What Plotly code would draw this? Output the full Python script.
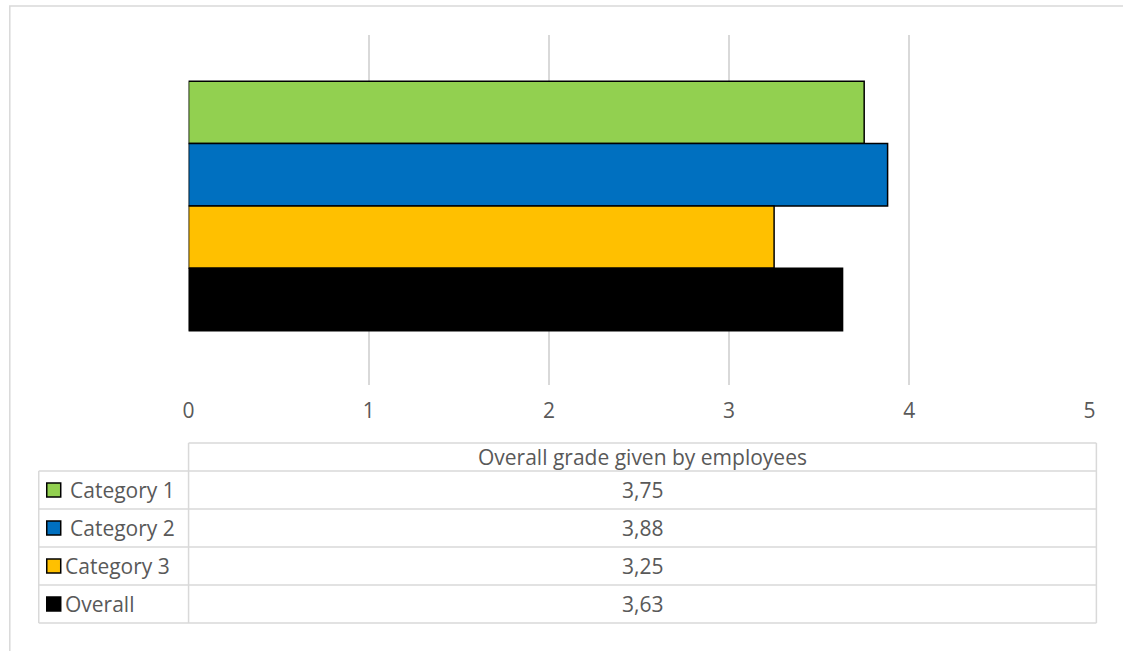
import plotly.graph_objects as go

# Survey results: overall grade given by employees, per group
categories = ["Category 1", "Category 2", "Category 3", "Overall"]
grades = [3.75, 3.88, 3.25, 3.63]
grade_labels = ["3,75", "3,88", "3,25", "3,63"]
colors = ["#92D050", "#0070C0", "#FFC000", "#000000"]
metric = "Overall grade given by employees"
x_ticks = [0, 1, 2, 3, 4, 5]

W, H = 1123, 651
FONT = "Open Sans"
FS = 21
TXT = "#595959"
GRID = "#D9D9D9"

# horizontal placement helpers (page pixels -> paper fraction)
X_OFF, X_SCALE = 5.2, 0.9906


def px(x):
    return (x - X_OFF) / X_SCALE / W


def py(y):
    return 1 - y / H


fig = go.Figure()

# one bar per category, bottom-up order on the category axis
bottom_up = list(reversed(categories))
for name, val, col in zip(categories, grades, colors):
    fig.add_trace(go.Bar(
        y=[name], x=[val], name=name, orientation="h", width=1,
        marker=dict(color=col, line=dict(color="#000000", width=1.5)),
        showlegend=False,
    ))

shapes = []
annotations = []

# outer chart frame
shapes.append(dict(type="rect", xref="paper", yref="paper",
                   x0=px(9), x1=px(1126), y0=py(660), y1=py(6),
                   line=dict(color=GRID, width=1.5)))

# data table grid
tbl_left, tbl_mid, tbl_right = 38, 188, 1097
hdr_top = 443
row_edges = [471, 509, 547, 585, 623]
line_style = dict(color=GRID, width=1.5)
# header row (value column only)
shapes.append(dict(type="line", xref="paper", yref="paper",
                   x0=px(tbl_mid), x1=px(tbl_right), y0=py(hdr_top), y1=py(hdr_top), line=line_style))
shapes.append(dict(type="line", xref="paper", yref="paper",
                   x0=px(tbl_mid), x1=px(tbl_mid), y0=py(hdr_top), y1=py(row_edges[-1]), line=line_style))
shapes.append(dict(type="line", xref="paper", yref="paper",
                   x0=px(tbl_right), x1=px(tbl_right), y0=py(hdr_top), y1=py(row_edges[-1]), line=line_style))
shapes.append(dict(type="line", xref="paper", yref="paper",
                   x0=px(tbl_left), x1=px(tbl_left), y0=py(row_edges[0]), y1=py(row_edges[-1]), line=line_style))
for ye in row_edges:
    shapes.append(dict(type="line", xref="paper", yref="paper",
                       x0=px(tbl_left), x1=px(tbl_right), y0=py(ye), y1=py(ye), line=line_style))

annotations.append(dict(text=metric, xref="paper", yref="paper",
                        x=px((tbl_mid + tbl_right) / 2), y=py((hdr_top + row_edges[0]) / 2),
                        xanchor="center", yanchor="middle", showarrow=False,
                        font=dict(family=FONT, size=FS, color=TXT)))

label_x = [67, 67, 62, 62]
for i, (name, lab, col) in enumerate(zip(categories, grade_labels, colors)):
    yc = (row_edges[i] + row_edges[i + 1]) / 2
    shapes.append(dict(type="rect", xref="paper", yref="paper",
                       x0=px(46), x1=px(60), y0=py(yc + 7), y1=py(yc - 7),
                       fillcolor=col, line=dict(color="#000000", width=1.5)))
    annotations.append(dict(text=name, xref="paper", yref="paper",
                            x=px(label_x[i]), y=py(yc), xanchor="left", yanchor="middle",
                            showarrow=False, font=dict(family=FONT, size=FS, color=TXT)))
    annotations.append(dict(text=lab, xref="paper", yref="paper",
                            x=px((tbl_mid + tbl_right) / 2), y=py(yc), xanchor="center",
                            yanchor="middle", showarrow=False,
                            font=dict(family=FONT, size=FS, color=TXT)))

fig.update_layout(
    width=W, height=H,
    margin=dict(l=0, r=0, t=0, b=0),
    paper_bgcolor="white", plot_bgcolor="white",
    barmode="overlay",
    xaxis=dict(domain=[px(188), px(1090)], range=[0, 5], tickvals=x_ticks,
               showgrid=True, gridcolor=GRID, gridwidth=1.5, zeroline=False,
               showline=False, ticks="", ticklabelstandoff=11,
               tickfont=dict(family=FONT, size=FS, color=TXT)),
    yaxis=dict(domain=[py(385), py(35)], type="category",
               categoryorder="array", categoryarray=bottom_up,
               range=[-1.37, 4.24], showticklabels=False, showgrid=False,
               zeroline=False, showline=False, ticks=""),
    shapes=shapes,
    annotations=annotations,
)

fig.write_html("out.html")
